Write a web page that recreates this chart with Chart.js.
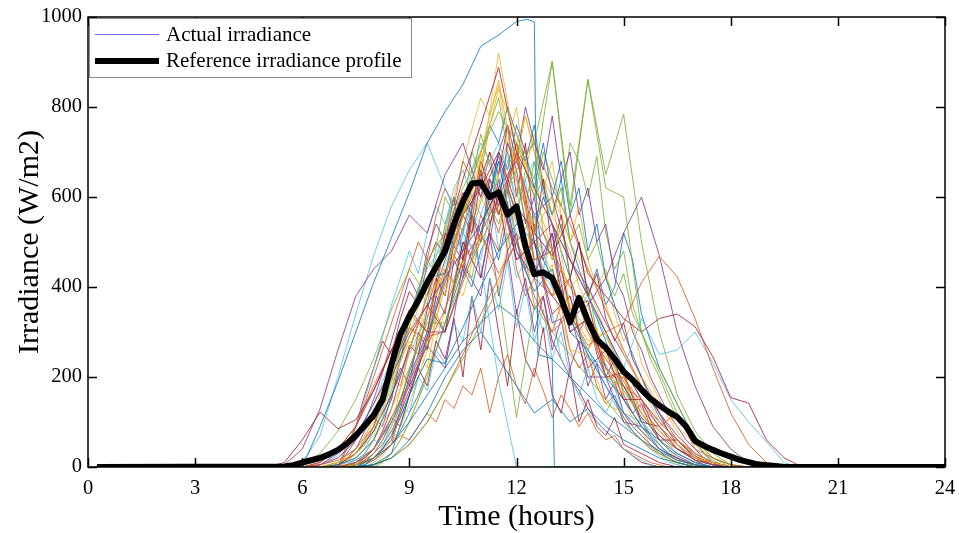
<!DOCTYPE html>
<html>
<head>
<meta charset="utf-8">
<script src="https://cdn.jsdelivr.net/npm/chart.js@4.4.0/dist/chart.umd.min.js"></script>
<style>
  html, body { margin: 0; padding: 0; background: #fff; }
  #wrap { width: 959px; height: 533px; position: relative; }
</style>
</head>
<body>
<div id="wrap"><canvas id="c" width="959" height="533"></canvas></div>
<script>
// ---------- DATA ----------
const xTicks = [0, 3, 6, 9, 12, 15, 18, 21, 24];
const yTicks = [0, 200, 400, 600, 800, 1000];

// Reference irradiance profile (thick black line)
const refTimes = [0.25, 5.5, 5.75, 6.0, 6.25, 6.5, 6.75, 7.0, 7.25, 7.5, 7.75, 8.0, 8.25, 8.5, 8.75, 9.0, 9.25, 9.5, 9.75,
  10.0, 10.25, 10.5, 10.75, 11.0, 11.25, 11.5, 11.75, 12.0, 12.25, 12.5, 12.75, 13.0, 13.25, 13.5, 13.75,
  14.0, 14.25, 14.5, 14.75, 15.0, 15.25, 15.5, 15.75, 16.0, 16.25, 16.5, 16.75, 17.0, 17.25, 17.5, 17.75,
  18.0, 18.25, 18.5, 18.75, 19.0, 19.25, 19.5, 24.0];
const refValues = [0, 1, 4, 10, 15, 20, 28, 38, 52, 70, 92, 115, 150, 228, 295, 335, 370, 410, 445,
  480, 540, 590, 630, 632, 600, 610, 561, 579, 490, 428, 433, 420, 375, 321, 376,
  325, 283, 265, 240, 212, 194, 172, 152, 137, 123, 111, 90, 58, 47, 38, 30,
  23, 16, 11, 6, 4, 2, 0, 0];

// Actual irradiance, one clear-ish day with a sudden drop (own time grid)
const clearDayTimes = [0.25, 6.0, 6.5, 7.0, 7.5, 8.0, 8.5, 9.0, 9.5, 10.0, 10.5, 11.0, 11.5, 12.0, 12.3, 12.5, 12.6, 13.0, 13.06, 24.0];
const clearDayValues = [0, 0, 90, 190, 300, 410, 510, 610, 720, 790, 850, 935, 960, 990, 995, 989, 250, 240, 0, 0];

// Actual irradiance, days sampled every 30 min from 5:00 to 20:00 (zero otherwise)
const dayTimes = [5.0, 5.5, 6.0, 6.5, 7.0, 7.5, 8.0, 8.5, 9.0, 9.5, 10.0, 10.5, 11.0, 11.5, 12.0, 12.5,
  13.0, 13.5, 14.0, 14.5, 15.0, 15.5, 16.0, 16.5, 17.0, 17.5, 18.0, 18.5, 19.0, 19.5, 20.0];
const day02 = [0,0,0,5,15,40,90,230,310,280,420,560,640,520,700,450,380,420,300,240,180,150,90,120,40,20,5,0,0,0,0];
const day03 = [0,0,0,0,10,30,70,180,290,420,380,560,700,860,640,520,600,350,280,300,160,120,80,50,20,10,0,0,0,0,0];
const day04 = [0,5,40,130,260,380,440,480,560,520,650,720,600,690,560,430,520,300,330,220,180,110,70,40,15,5,0,0,0,0,0];
const day05 = [0,0,0,0,10,30,90,200,330,460,520,620,700,790,720,640,900,560,860,620,600,300,210,120,60,20,5,0,0,0,0];
const day06 = [0,0,10,70,200,340,470,580,660,720,620,520,450,190,0,0,0,0,0,0,0,0,0,0,0,0,0,0,0,0,0];
const day07 = [0,10,60,122,85,105,170,260,330,410,480,560,620,700,580,520,470,560,430,380,330,300,330,340,312,245,154,142,60,20,0];
const day08 = [0,0,0,0,5,20,60,150,330,420,430,600,520,680,480,390,440,300,260,200,150,90,60,30,10,0,0,0,0,0,0];
const day09 = [0,0,0,0,0,10,40,110,190,270,350,460,520,430,500,380,300,340,270,300,320,410,468,423,330,220,120,50,10,0,0];
const day10 = [0,0,0,0,0,5,30,90,260,380,430,560,680,840,740,610,480,400,440,360,250,180,100,60,30,10,0,0,0,0,0];
const day11 = [0,0,0,5,30,70,140,220,300,360,420,480,540,620,480,420,380,330,360,420,520,600,470,300,180,90,40,10,0,0,0];
const day12 = [0,0,0,0,0,5,20,70,220,320,320,420,500,580,660,720,902,580,862,650,784,500,300,160,80,30,5,0,0,0,0];
const day13 = [0,0,0,5,25,70,140,240,340,440,500,580,540,640,520,450,400,330,380,290,220,330,250,260,300,232,150,100,56,9,0];
const day14 = [0,0,0,0,5,30,80,160,260,380,500,640,760,888,700,620,540,460,380,300,220,150,100,60,30,10,0,0,0,0,0];
const day15 = [0,0,0,0,0,0,5,20,60,120,200,260,300,240,180,120,150,100,130,90,60,40,20,10,0,0,0,0,0,0,0];
const day16 = [0,0,0,10,40,90,180,260,340,300,500,440,660,560,720,460,480,300,330,200,200,140,90,50,20,5,0,0,0,0,0];
const day17 = [0,0,0,0,5,20,60,130,220,330,450,560,660,920,700,520,430,360,300,220,160,200,140,90,50,20,5,0,0,0,0];
const day18 = [0,0,0,0,0,5,20,60,200,300,300,420,540,620,680,560,600,460,400,320,250,180,120,70,30,10,0,0,0,0,0];
const day19 = [0,0,5,30,80,150,240,350,440,380,600,520,740,600,640,460,480,300,330,200,180,120,70,30,10,0,0,0,0,0,0];
const day20 = [0,0,0,0,5,15,40,100,190,300,410,520,640,720,600,680,540,460,380,300,220,150,90,50,20,5,0,0,0,0,0];
const day21 = [0,0,0,5,20,60,120,200,290,360,300,500,420,640,460,500,340,380,220,260,150,150,60,60,20,10,0,0,0,0,0];
const day22 = [0,0,0,0,0,0,5,30,160,240,230,310,400,480,540,500,420,330,250,180,120,80,40,15,5,0,0,0,0,0,0];
const day23 = [0,0,0,0,0,5,15,50,190,290,300,410,520,600,680,720,620,540,440,350,260,180,120,60,25,5,0,0,0,0,0];
const day24 = [0,0,0,0,10,40,100,190,280,220,430,380,520,400,580,360,400,260,250,140,120,80,40,15,5,0,0,0,0,0,0];
const day25 = [0,0,0,0,0,10,40,100,180,270,220,450,380,620,460,500,320,340,200,200,100,90,40,20,5,0,0,0,0,0,0];
const day26 = [0,0,0,0,0,0,5,20,50,100,170,240,320,400,110,360,300,250,200,150,100,60,30,10,0,0,0,0,0,0,0];
const day27 = [0,0,0,0,10,30,80,160,250,340,300,520,460,680,540,560,400,380,240,230,120,100,40,30,10,0,0,0,0,0,0];
const day28 = [0,0,0,10,40,90,170,260,350,300,520,460,680,560,700,500,540,350,370,200,210,100,90,40,20,5,0,0,0,0,0];
const day29 = [0,0,0,0,0,5,20,50,100,160,220,280,320,360,330,280,240,200,160,120,90,60,35,15,5,0,0,0,0,0,0];
const day30 = [0,0,0,0,0,0,5,20,50,100,170,250,340,420,500,560,480,400,330,260,190,130,80,40,15,5,0,0,0,0,0];

// Actual irradiance, cloudy days sampled every 15 min from 7:00 to 18:00 (zero otherwise)
const quarterTimes = [7.0, 7.25, 7.5, 7.75, 8.0, 8.25, 8.5, 8.75, 9.0, 9.25, 9.5, 9.75, 10.0, 10.25, 10.5, 10.75,
  11.0, 11.25, 11.5, 11.75, 12.0, 12.25, 12.5, 12.75, 13.0, 13.25, 13.5, 13.75, 14.0, 14.25, 14.5, 14.75,
  15.0, 15.25, 15.5, 15.75, 16.0, 16.25, 16.5, 16.75, 17.0, 17.25, 17.5, 17.75, 18.0];
const cloudy01 = [0,10,30,60,120,180,150,260,320,280,410,380,520,460,600,540,700,580,650,500,620,480,560,400,450,350,380,300,260,310,220,180,200,140,120,90,70,50,40,30,15,10,5,0,0];
const cloudy02 = [0,20,40,80,110,90,160,220,180,300,260,380,340,460,420,560,500,640,580,720,660,540,600,460,520,380,420,300,340,250,200,240,160,120,140,90,60,40,25,15,5,0,0,0,0];
const cloudy03 = [0,0,10,30,60,110,170,240,310,390,460,430,540,600,560,700,650,760,820,700,640,580,680,520,460,540,420,360,400,300,260,220,170,140,100,80,50,30,20,10,0,0,0,0,0];
const cloudy04 = [0,5,15,30,60,50,90,140,120,200,170,260,230,320,280,380,300,420,350,460,310,400,280,350,240,300,200,160,220,150,120,160,100,80,110,70,50,30,20,10,5,0,0,0,0];
const cloudy05 = [0,0,5,20,40,80,130,200,270,250,350,420,380,500,560,520,640,700,650,760,600,720,520,640,480,560,420,500,380,430,330,280,320,240,200,160,120,80,50,30,15,5,0,0,0];
const cloudy06 = [0,0,0,10,30,60,100,150,210,270,330,400,460,520,480,580,640,600,700,660,760,700,620,720,600,680,560,620,480,540,420,360,300,250,200,150,110,80,60,40,25,10,5,0,0];
const cloudy07 = [0,15,30,50,90,140,200,180,260,320,300,380,440,410,500,470,560,520,480,590,440,380,420,340,300,360,260,220,250,180,140,160,110,80,60,40,30,20,10,5,0,0,0,0,0];
const cloudy08 = [0,0,0,0,10,25,50,90,140,200,260,330,400,470,440,540,600,560,660,720,680,780,700,640,600,560,500,460,400,350,300,250,200,160,120,90,60,40,20,10,0,0,0,0,0];
const cloudy09 = [0,30,60,100,150,210,280,350,420,380,480,540,500,600,460,560,420,520,380,480,340,420,300,380,260,330,220,280,180,230,150,190,120,90,70,50,35,20,10,5,0,0,0,0,0];
const cloudy10 = [0,0,0,0,0,10,30,60,100,150,200,260,320,390,460,520,590,640,600,680,720,660,600,640,560,620,500,540,460,500,420,380,430,340,300,250,220,180,140,100,70,40,20,10,0];
const cloudy11 = [0,5,20,40,80,130,190,260,330,400,360,470,530,600,560,660,720,680,620,700,560,640,500,440,520,380,340,300,260,220,180,140,110,80,60,40,25,10,5,0,0,0,0,0,0];
const cloudy12 = [0,0,10,20,40,70,110,90,160,220,180,280,240,330,200,380,260,420,300,180,350,240,200,310,160,120,220,100,150,90,70,110,50,40,30,20,10,5,0,0,0,0,0,0,0];
const cloudy13 = [0,0,0,5,20,40,70,110,160,220,290,360,430,500,570,640,700,760,720,800,740,680,760,620,560,640,500,440,380,330,280,230,180,140,100,70,50,30,20,10,5,0,0,0,0];
const cloudy14 = [0,50,90,140,200,260,320,380,440,500,460,560,620,580,680,640,600,700,560,620,500,460,540,420,380,440,340,300,260,300,220,180,150,120,90,70,50,30,20,10,5,0,0,0,0];
const cloudy15 = [0,0,0,0,5,15,30,60,100,150,210,280,350,420,480,550,500,620,680,640,720,780,700,620,680,560,500,580,460,400,440,340,280,320,230,190,150,110,80,50,30,15,5,0,0];
const cloudy16 = [0,0,5,15,30,50,80,120,170,230,290,350,410,470,530,590,650,600,700,760,680,800,720,660,780,640,700,560,620,500,540,420,380,300,260,200,160,120,90,60,40,20,10,5,0];
const cloudy17 = [0,0,0,10,20,40,70,110,160,220,280,340,300,400,460,420,520,580,540,620,560,660,600,700,640,580,720,680,600,690,520,440,480,360,300,240,200,150,110,80,50,30,15,5,0];
const cloudy18 = [0,40,90,150,220,290,360,420,480,430,520,580,540,620,660,600,560,620,480,520,420,460,360,300,340,240,200,160,120,100,80,60,40,25,15,5,0,0,0,0,0,0,0,0,0];
const cloudy19 = [0,40,90,160,220,280,250,330,390,360,450,500,470,560,610,580,660,540,600,480,520,400,350,380,280,240,200,170,130,100,80,60,40,25,10,5,0,0,0,0,0,0,0,0,0];
const cloudy20 = [0,0,0,5,15,30,50,80,120,160,210,260,320,380,440,400,480,520,460,560,500,440,520,600,540,480,420,500,380,440,360,400,520,460,340,280,220,180,140,100,60,30,10,0,0];
const cloudy21 = [0,0,5,10,20,35,50,70,60,90,120,100,150,130,180,160,220,120,200,250,180,140,220,170,110,160,130,90,120,80,60,70,40,30,20,10,5,0,0,0,0,0,0,0,0];
const cloudy22 = [0,0,0,10,30,60,100,150,210,280,360,440,520,600,680,750,820,780,850,720,800,660,740,600,560,520,480,400,360,300,250,200,150,110,80,50,30,15,5,0,0,0,0,0,0];

const halfHourDays = [day02, day03, day04, day05, day06, day07, day08, day09, day10, day11, day12, day13, day14, day15, day16,
  day17, day18, day19, day20, day21, day22, day23, day24, day25, day26, day27, day28, day29, day30];
const quarterHourDays = [cloudy01, cloudy02, cloudy03, cloudy04, cloudy05, cloudy06, cloudy07, cloudy08, cloudy09, cloudy10,
  cloudy11, cloudy12, cloudy13, cloudy14, cloudy15, cloudy16, cloudy17, cloudy18, cloudy19, cloudy20, cloudy21, cloudy22];

// ---------- STYLE ----------
const lineColors = ['#0072BD', '#D95319', '#EDB120', '#7E2F8E', '#77AC30', '#4DBEEE', '#A2142F'];
const serif = '"Liberation Serif", "Times New Roman", Times, serif';

function toPoints(times, values) { return times.map((t, i) => ({ x: t, y: values[i] })); }
function padDay(times, values) {
  return [{ x: 0.25, y: 0 }].concat(toPoints(times, values), [{ x: 24, y: 0 }]);
}

const datasets = [];
datasets.push({
  label: 'Reference irradiance profile',
  data: toPoints(refTimes, refValues),
  borderColor: '#000', borderWidth: 6, pointRadius: 0, tension: 0, borderJoinStyle: 'round'
});
let colorIdx = 0;
function thin(data) {
  datasets.push({
    label: 'Actual irradiance', data,
    borderColor: lineColors[colorIdx++ % lineColors.length], borderWidth: 0.8, pointRadius: 0, tension: 0
  });
}
thin(toPoints(clearDayTimes, clearDayValues));
halfHourDays.forEach(v => thin(padDay(dayTimes, v)));
quarterHourDays.forEach(v => thin(padDay(quarterTimes, v)));

const frame = {
  id: 'frame',
  afterDraw(chart) {
    const { ctx, chartArea: a, scales } = chart;
    ctx.save();
    ctx.strokeStyle = '#000';
    ctx.lineWidth = 1.5;
    ctx.strokeRect(a.left, a.top, a.right - a.left, a.bottom - a.top);
    const tl = 9;
    ctx.beginPath();
    xTicks.forEach(v => {
      const px = Math.round(scales.x.getPixelForValue(v)) + 0.5;
      ctx.moveTo(px, a.bottom); ctx.lineTo(px, a.bottom - tl);
      ctx.moveTo(px, a.top); ctx.lineTo(px, a.top + tl);
    });
    yTicks.forEach(v => {
      const py = Math.round(scales.y.getPixelForValue(v)) + 0.5;
      ctx.moveTo(a.left, py); ctx.lineTo(a.left + tl, py);
      ctx.moveTo(a.right, py); ctx.lineTo(a.right - tl, py);
    });
    ctx.stroke();

    // legend box
    const bx = a.left + 1, by = a.top + 1, bw = 322, bh = 59;
    ctx.fillStyle = '#fff';
    ctx.fillRect(bx, by, bw, bh);
    ctx.strokeStyle = '#8a8a8a';
    ctx.lineWidth = 1;
    ctx.strokeRect(bx + 0.5, by + 0.5, bw, bh);
    ctx.font = '21px ' + serif;
    ctx.fillStyle = '#000';
    ctx.textBaseline = 'middle';
    ctx.textAlign = 'left';
    ctx.strokeStyle = '#7070ff';
    ctx.lineWidth = 1;
    ctx.beginPath(); ctx.moveTo(95, 34.5); ctx.lineTo(159, 34.5); ctx.stroke();
    ctx.fillText('Actual irradiance', 166, 35);
    ctx.strokeStyle = '#000';
    ctx.lineWidth = 6;
    ctx.beginPath(); ctx.moveTo(95, 61); ctx.lineTo(159, 61); ctx.stroke();
    ctx.fillText('Reference irradiance profile', 166, 61);
    ctx.restore();
  }
};

new Chart(document.getElementById('c'), {
  type: 'line',
  data: { datasets },
  options: {
    responsive: false,
    animation: false,
    events: [],
    layout: { padding: { top: 17, right: 14, left: 0, bottom: 0 } },
    plugins: { legend: { display: false }, tooltip: { enabled: false } },
    scales: {
      x: {
        type: 'linear', min: 0, max: 24,
        afterBuildTicks: s => { s.ticks = xTicks.map(v => ({ value: v })); },
        afterFit: s => { s.height = 66; s.paddingLeft = 0; s.paddingRight = 0; },
        grid: { display: false, drawTicks: false },
        border: { display: false },
        ticks: { color: '#000', padding: 9, font: { family: serif, size: 20.5 }, maxRotation: 0, callback: v => String(v) },
        title: { display: true, text: 'Time (hours)', color: '#000', font: { family: serif, size: 30, lineHeight: 1 }, padding: { top: 0, bottom: 1 } }
      },
      y: {
        type: 'linear', min: 0, max: 1000,
        afterBuildTicks: s => { s.ticks = yTicks.map(v => ({ value: v })); },
        afterFit: s => { s.width = 88; s.paddingTop = 0; s.paddingBottom = 0; },
        grid: { display: false, drawTicks: false },
        border: { display: false },
        ticks: { color: '#000', padding: 6, font: { family: serif, size: 20.5 }, callback: v => String(v) },
        title: { display: true, text: 'Irradiance (W/m2)', color: '#000', font: { family: serif, size: 30, lineHeight: 1 }, padding: { top: 15, bottom: 0 } }
      }
    }
  },
  plugins: [frame]
});
</script>
</body>
</html>
